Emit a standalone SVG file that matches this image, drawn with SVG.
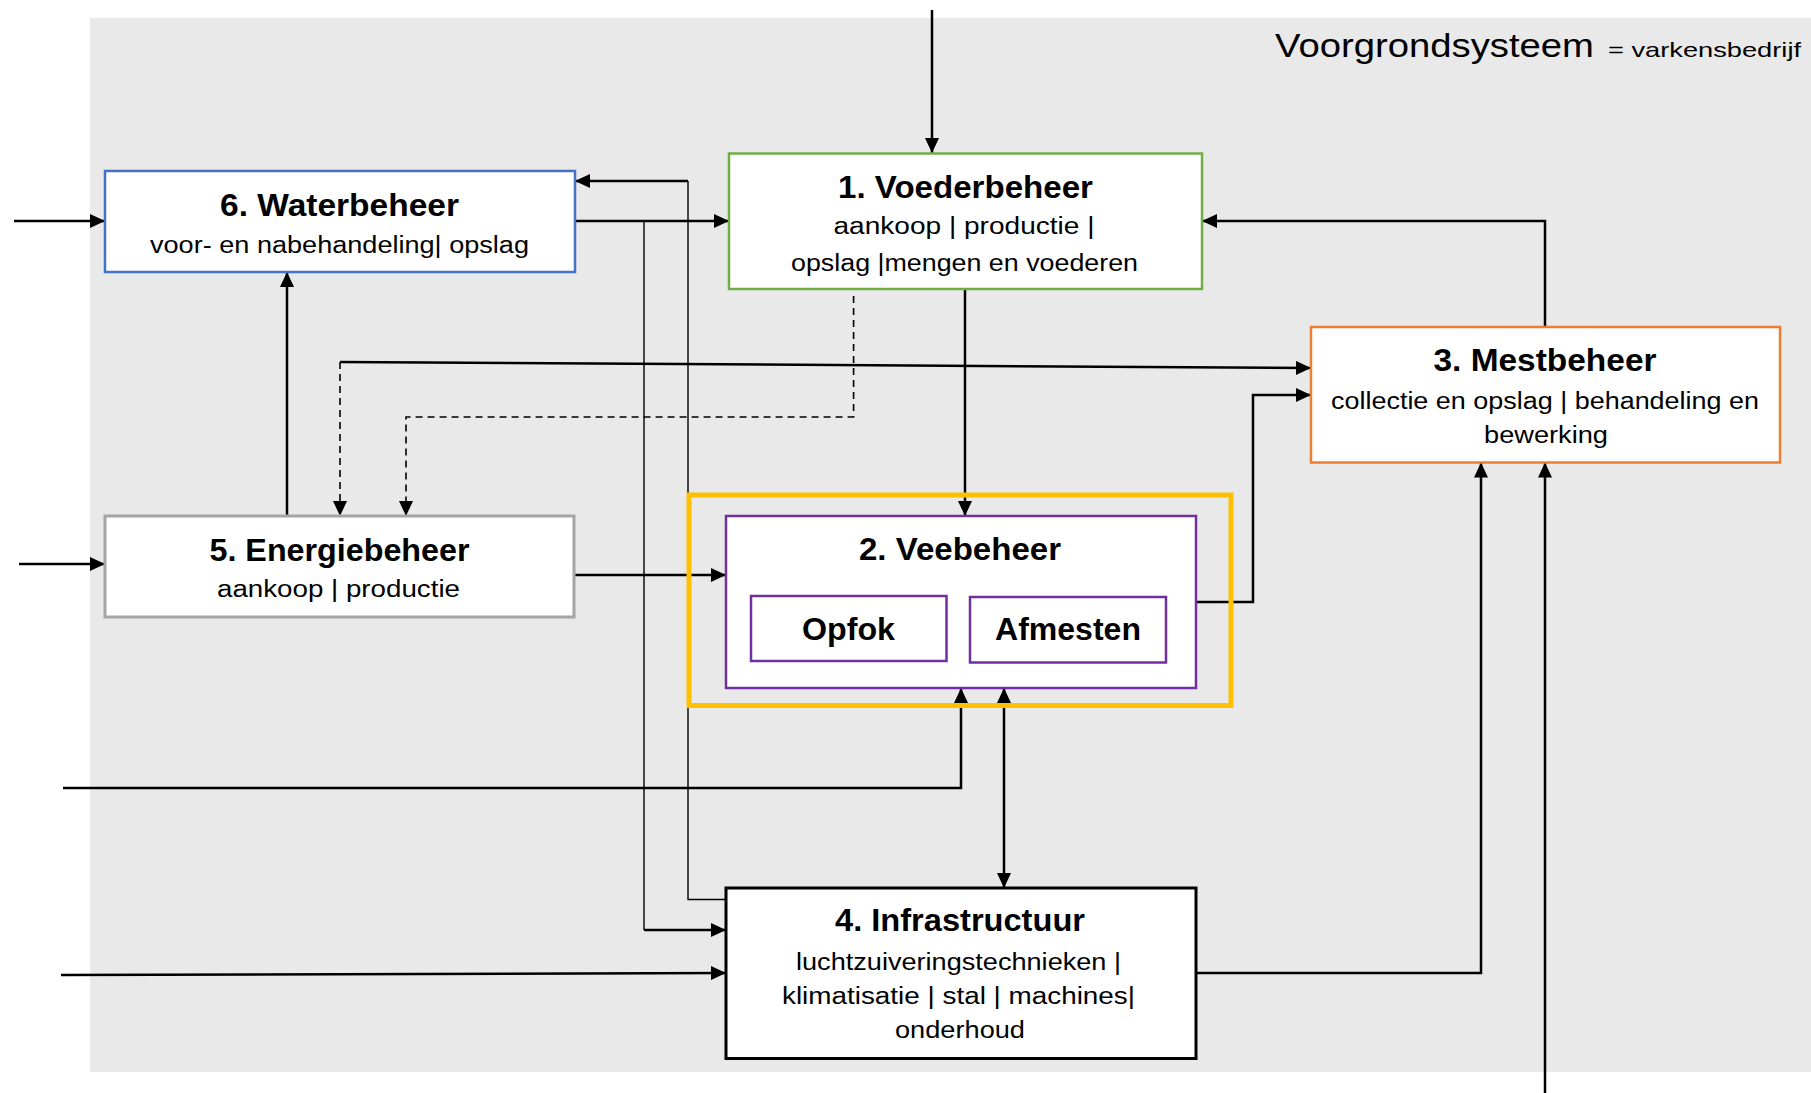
<svg xmlns="http://www.w3.org/2000/svg" width="1811" height="1093" viewBox="0 0 1811 1093">
<style>
.t{font-family:"Liberation Sans",Arial,sans-serif;font-weight:bold;font-size:31px;fill:#000}
.s{font-family:"Liberation Sans",Arial,sans-serif;font-size:23.5px;fill:#000}
.box{fill:#fff}
.c{fill:none;stroke:#000;stroke-width:2.5}
.thin{fill:none;stroke:#000;stroke-width:1.4}
.d{fill:none;stroke:#000;stroke-width:1.6;stroke-dasharray:7,5}
</style>
<defs>
<marker id="a" markerUnits="userSpaceOnUse" markerWidth="15" markerHeight="14" refX="15" refY="7" orient="auto-start-reverse">
<path d="M0,0 L15,7 L0,14 z" fill="#000"/>
</marker>
</defs>
<rect x="90" y="18" width="1721" height="1054" fill="#E9E9E9"/>
<text x="1275" y="57" font-family="Liberation Sans,Arial,sans-serif" font-size="34" textLength="319" lengthAdjust="spacingAndGlyphs">Voorgrondsysteem</text>
<text x="1608" y="57" font-family="Liberation Sans,Arial,sans-serif" font-size="21" textLength="193" lengthAdjust="spacingAndGlyphs">= varkensbedrijf</text>

<g id="connectors">
<path class="c" d="M932,10 L932,153" marker-end="url(#a)"/>
<path class="c" d="M14,221 L105,221" marker-end="url(#a)"/>
<path class="c" d="M575,221 L729,221" marker-end="url(#a)"/>
<path class="thin" d="M644,221 L644,930"/>
<path class="c" d="M644,930 L726,930" marker-end="url(#a)"/>
<path class="thin" d="M726,899.5 L688,899.5 L688,181"/>
<path class="c" d="M688,181 L575,181" marker-end="url(#a)"/>
<path class="c" d="M287,516 L287,272" marker-end="url(#a)"/>
<path class="c" d="M340,362 L1311,368" marker-end="url(#a)"/>
<path class="d" d="M340,362 L340,516" marker-end="url(#a)"/>
<path class="d" d="M853.6,296 L853.6,417 L406,417 L406,516" marker-end="url(#a)"/>
<path class="c" d="M965,289 L965,516" marker-end="url(#a)"/>
<path class="c" d="M1545,327 L1545,221 L1202,221" marker-end="url(#a)"/>
<path class="c" d="M1196,602 L1253,602 L1253,395 L1311,395" marker-end="url(#a)"/>
<path class="c" d="M19,564 L105,564" marker-end="url(#a)"/>
<path class="c" d="M574,575 L726,575" marker-end="url(#a)"/>
<path class="c" d="M63,788 L961,788 L961,688" marker-end="url(#a)"/>
<path class="c" d="M1004,688 L1004,888" marker-start="url(#a)" marker-end="url(#a)"/>
<path class="c" d="M61,975 L726,973" marker-end="url(#a)"/>
<path class="c" d="M1196,973 L1481,973 L1481,462.5" marker-end="url(#a)"/>
<path class="c" d="M1545,1093 L1545,462.5" marker-end="url(#a)"/>
</g>

<g id="n6">
<rect class="box" x="105" y="171" width="470" height="101" stroke="#4472C4" stroke-width="2.5"/>
<text class="t" x="220" y="216" textLength="239" lengthAdjust="spacingAndGlyphs">6. Waterbeheer</text>
<text class="s" x="150" y="253" textLength="379" lengthAdjust="spacingAndGlyphs">voor- en nabehandeling| opslag</text>
</g>
<g id="n1">
<rect class="box" x="729" y="153.5" width="473" height="135.5" stroke="#70AD47" stroke-width="2.5"/>
<text class="t" x="838" y="197.5" textLength="255" lengthAdjust="spacingAndGlyphs">1. Voederbeheer</text>
<text class="s" x="833.5" y="234" textLength="261" lengthAdjust="spacingAndGlyphs">aankoop | productie |</text>
<text class="s" x="791" y="271" textLength="347" lengthAdjust="spacingAndGlyphs">opslag |mengen en voederen</text>
</g>
<g id="n3">
<rect class="box" x="1311" y="327" width="469" height="135.5" stroke="#ED7D31" stroke-width="2.5"/>
<text class="t" x="1433.5" y="371" textLength="223" lengthAdjust="spacingAndGlyphs">3. Mestbeheer</text>
<text class="s" x="1331" y="409" textLength="428" lengthAdjust="spacingAndGlyphs">collectie en opslag | behandeling en</text>
<text class="s" x="1484" y="443" textLength="124" lengthAdjust="spacingAndGlyphs">bewerking</text>
</g>
<g id="n5">
<rect class="box" x="105" y="516" width="469" height="101" stroke="#A5A5A5" stroke-width="3"/>
<text class="t" x="209.5" y="561" textLength="260" lengthAdjust="spacingAndGlyphs">5. Energiebeheer</text>
<text class="s" x="217" y="597" textLength="243" lengthAdjust="spacingAndGlyphs">aankoop | productie</text>
</g>
<g id="n2">
<rect x="689" y="495" width="542" height="210.5" fill="none" stroke="#FFC000" stroke-width="5"/>
<rect class="box" x="726" y="516" width="470" height="172" stroke="#7030A0" stroke-width="2.5"/>
<text class="t" x="859" y="560" textLength="202" lengthAdjust="spacingAndGlyphs">2. Veebeheer</text>
<g id="n2a">
<rect class="box" x="751" y="596" width="195.5" height="65" stroke="#7030A0" stroke-width="2.5"/>
<text class="t" x="802" y="639.5" font-size="33" textLength="93" lengthAdjust="spacingAndGlyphs">Opfok</text>
</g>
<g id="n2b">
<rect class="box" x="970" y="597" width="196" height="65.5" stroke="#7030A0" stroke-width="2.5"/>
<text class="t" x="995" y="640" font-size="33" textLength="146" lengthAdjust="spacingAndGlyphs">Afmesten</text>
</g>
</g>
<g id="n4">
<rect class="box" x="726" y="888" width="470" height="170.5" stroke="#000" stroke-width="3"/>
<text class="t" x="835" y="931" textLength="250" lengthAdjust="spacingAndGlyphs">4. Infrastructuur</text>
<text class="s" x="796" y="970" textLength="325" lengthAdjust="spacingAndGlyphs">luchtzuiveringstechnieken |</text>
<text class="s" x="782" y="1004" textLength="353" lengthAdjust="spacingAndGlyphs">klimatisatie | stal | machines|</text>
<text class="s" x="895" y="1038" textLength="130" lengthAdjust="spacingAndGlyphs">onderhoud</text>
</g>
</svg>
